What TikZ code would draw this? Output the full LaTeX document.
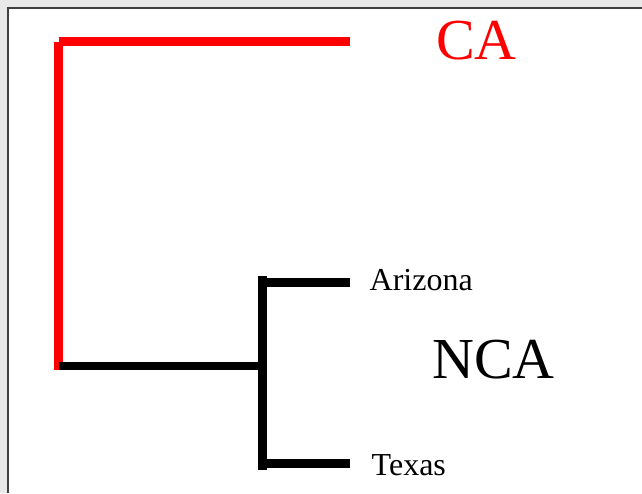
\documentclass[tikz,border=0pt]{standalone}
\usepackage{fontspec}
\setmainfont{Liberation Serif}
\usetikzlibrary{calc}

\begin{document}
\begin{tikzpicture}[x=1pt, y=-1pt]

  % Frame and background
  \useasboundingbox (0, 0) rectangle (642, 493);
  \fill[gray!17] (0, 0) rectangle (642, 493);
  \fill[white] (9, 9) rectangle (642, 493);
  \draw[black!75, line width=2pt] (8, 493) -- (8, 8) -- (642, 8);

  % Coordinates
  \def\tip{350}
  \def\lw{8.5pt}
  \coordinate (root) at (58.5, 366);
  \coordinate (top) at (58.5, 41.5);
  \coordinate (ca) at (\tip, 41.5);
  \coordinate (nca) at (262.5, 366);
  \coordinate (ncatop) at (262.5, 279);
  \coordinate (ncabot) at (262.5, 467);
  \coordinate (az) at (\tip, 282.5);
  \coordinate (tx) at (\tip, 463.5);

  % CA branch
  \draw[red, line width=\lw] (58.5, 370) -- (top);
  \draw[red, line width=\lw] (top) -- (ca);

  % NCA branch
  \draw[black, line width=\lw] (root) -- (nca);
  \draw[black, line width=\lw] (ncatop |- 0, 276) -- (ncabot |- 0, 470);
  \draw[black, line width=\lw] (ncatop |- az) -- (az);
  \draw[black, line width=\lw] (ncabot |- tx) -- (tx);

  % Labels
  \node[red, anchor=base west, inner sep=0, font=\fontsize{58}{62}\selectfont] (calbl) at (436, 59) {CA};
  \node[anchor=base west, inner sep=0, font=\fontsize{58}{62}\selectfont] (ncalbl) at (432, 378) {NCA};
  \node[anchor=base west, inner sep=0, font=\fontsize{32}{36}\selectfont] (azlbl) at (369.5, 290) {Arizona};
  \node[anchor=base west, inner sep=0, font=\fontsize{32}{36}\selectfont] (txlbl) at (371.5, 475) {Texas};

\end{tikzpicture}
\end{document}
